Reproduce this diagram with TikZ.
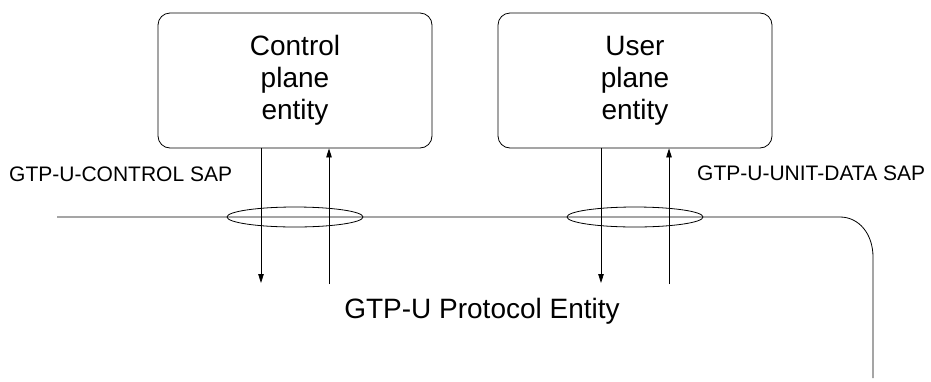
\documentclass[tikz,border=0pt]{standalone}
\usepackage{fontspec}
\setmainfont{Liberation Sans}
\usetikzlibrary{arrows.meta,shapes.geometric}
\begin{document}
\begin{tikzpicture}[x=1pt,y=-1pt,
  entitybox/.style={draw, line width=0.8pt, rounded corners=12pt, minimum width=274pt, minimum height=135pt, inner sep=0pt, align=center, font=\fontsize{28}{31.8}\selectfont},
  sapring/.style={draw, line width=0.8pt, ellipse, minimum width=136pt, minimum height=20pt, inner sep=0pt},
  lbl/.style={inner sep=0pt, font=\fontsize{21}{24}\selectfont},
  arr/.style={line width=0.8pt, -{Triangle[length=9pt,width=5.5pt]}},
  plain/.style={line width=0.8pt}]
\useasboundingbox (0,0) rectangle (931,381);
\node[entitybox] (cp) at (295,80.5) {Control\\plane\\entity};
\node[entitybox] (up) at (635,80.5) {User\\plane\\entity};
% bottom ends of SAP arrows
\coordinate (c1) at (261,283);
\coordinate (c2) at (329,284);
\coordinate (u1) at (601,283);
\coordinate (u2) at (669,284);
% protocol entity boundary line
\coordinate (hl) at (57,217);
\coordinate (hk) at (840,217);
\coordinate (hb) at (873,257);
\coordinate (hr) at (873,378);
\draw[plain] (hl) -- (hk) .. controls (859,217) and (873,234) .. (hb) -- (hr);
\node[sapring] (ce) at (295,217) {};
\node[sapring] (ue) at (635,217) {};
\draw[arr] (cp.south -| c1) -- (c1);
\draw[arr] (c2) -- (cp.south -| c2);
\draw[arr] (up.south -| u1) -- (u1);
\draw[arr] (u2) -- (up.south -| u2);
\node[lbl, anchor=base west] (csap) at (9,181) {GTP-U-CONTROL SAP};
\node[lbl, anchor=base west] (usap) at (697,180) {GTP-U-UNIT-DATA SAP};
\node[inner sep=0pt, font=\fontsize{28}{32}\selectfont, anchor=base] (pe) at (482,318) {GTP-U Protocol Entity};
\end{tikzpicture}
\end{document}
